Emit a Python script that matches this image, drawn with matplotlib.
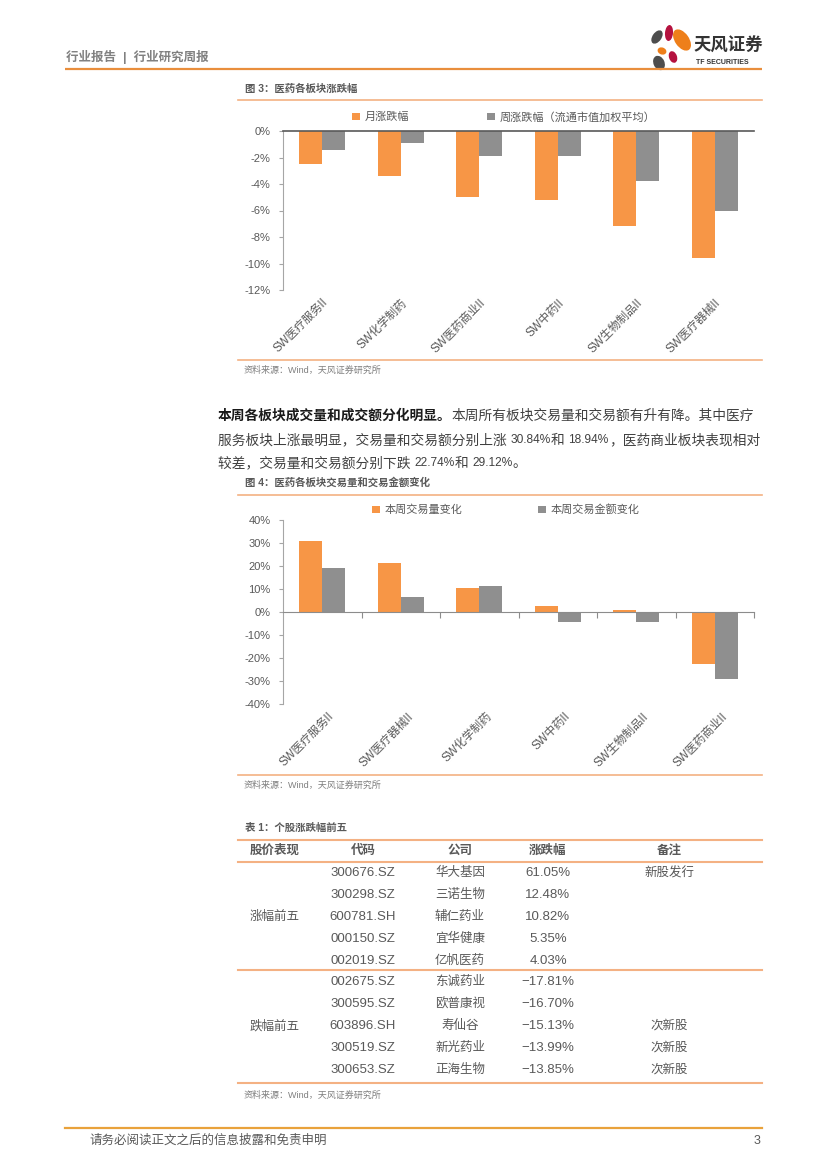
import numpy as np
import matplotlib.pyplot as plt
from matplotlib.patches import Ellipse
from matplotlib.ticker import FuncFormatter
from matplotlib.transforms import blended_transform_factory

plt.rcParams['font.family'] = ['Liberation Sans', 'Noto Sans CJK SC']

# 图3：医药各板块涨跌幅 (%)
sec3 = ['SW医疗服务II', 'SW化学制药', 'SW医药商业II', 'SW中药II', 'SW生物制品II', 'SW医疗器械II']
mon3 = [-2.5, -3.4, -5.0, -5.2, -7.15, -9.6]
week3 = [-1.45, -0.9, -1.9, -1.85, -3.8, -6.0]

# 图4：交易量和交易金额变化 (%)
sec4 = ['SW医疗服务II', 'SW医疗器械II', 'SW化学制药', 'SW中药II', 'SW生物制品II', 'SW医药商业II']
vol4 = [30.84, 21.5, 10.4, 2.7, 1.0, -22.74]
amt4 = [18.94, 6.5, 11.3, -4.3, -4.5, -29.12]

# 表1：个股涨跌幅前五
tb_head = ['股价表现', '代码', '公司', '涨跌幅', '备注']
tb_group = ['涨幅前五', '跌幅前五']
tb_code = ['300676.SZ', '300298.SZ', '600781.SH', '000150.SZ', '002019.SZ',
           '002675.SZ', '300595.SZ', '603896.SH', '300519.SZ', '300653.SZ']
tb_name = ['华大基因', '三诺生物', '辅仁药业', '宜华健康', '亿帆医药',
           '东诚药业', '欧普康视', '寿仙谷', '新光药业', '正海生物']
tb_chg = [61.05, 12.48, 10.82, 5.35, 4.03, -17.81, -16.70, -15.13, -13.99, -13.85]
tb_note = ['新股发行', '', '', '', '', '', '', '次新股', '次新股', '次新股']

ORG = '#F79646'
GRY = '#8F8F8F'
LINE = '#F4B183'
TXT = '#595959'

fig = plt.figure(figsize=(8.27, 11.69), dpi=100)
bg = fig.add_axes([0, 0, 1, 1])
bg.set_xlim(0, 827)
bg.set_ylim(1169, 0)
bg.axis('off')


def box(l, t, r, b):
    return [l / 827, 1 - b / 1169, (r - l) / 827, (b - t) / 1169]


def runs(x, y, parts):
    # parts: (text, size, weight, color) drawn one after another
    for s, fs, wt, c in parts:
        t = bg.text(x, y, s, fontsize=fs, weight=wt, color=c, va='center')
        fig.canvas.draw()
        bb = t.get_window_extent()
        x = bg.transData.inverted().transform((bb.x1, bb.y0))[0]


# 页眉
bg.text(66, 57, '行业报告  |  行业研究周报', fontsize=9, weight='bold', color='#808080', va='center')
bg.plot([65, 762], [68.5, 68.5], color='#E98E3C', lw=1.6, solid_capstyle='butt')
# logo
for (cx, cy, w, h, a, c) in [(657, 37, 9, 15, 35, '#4D4D4D'), (669, 33, 8, 16, 5, '#B5123F'),
                             (682, 40, 14, 24, -35, '#EE7F1A'), (662, 51, 9, 7, 20, '#EE7F1A'),
                             (673, 57, 8, 12, -20, '#B5123F'), (659, 63, 11, 15, -25, '#4D4D4D')]:
    bg.add_patch(Ellipse((cx, cy), w, h, angle=a, color=c, lw=0))
bg.text(694, 45, '天风证券', fontsize=12.5, weight='bold', color='#333333', va='center')
bg.text(696, 62, 'TF SECURITIES', fontsize=5, weight='bold', color='#333333', va='center')

# 图3
bg.text(245, 89, '图 3：医药各板块涨跌幅', fontsize=7.5, weight='bold', color=TXT, va='center')
bg.plot([238, 762], [100, 100], color=LINE, lw=1.2)
ax1 = fig.add_axes(box(283, 131, 754, 290))
x = np.arange(len(sec3))
ax1.bar(x - 0.145, mon3, 0.29, color=ORG, label='月涨跌幅')
ax1.bar(x + 0.145, week3, 0.29, color=GRY, label='周涨跌幅（流通市值加权平均）')
ax1.set_xlim(-0.5, 5.5)
ax1.set_ylim(-12, 0)
ax1.set_yticks(np.arange(-12, 1, 2))
ax1.yaxis.set_major_formatter(FuncFormatter(lambda v, p: f'{v:.0f}%'))
ax1.set_xticks(x, sec3, rotation=45, ha='right', va='top', rotation_mode='anchor')
ax1.tick_params(axis='x', length=0, pad=5, labelsize=8.3, labelcolor=TXT)
ax1.tick_params(axis='y', length=3, color='#A6A6A6', labelsize=8, labelcolor=TXT, pad=6)
ax1.spines[['right', 'bottom']].set_visible(False)
ax1.spines['top'].set_color('#595959')
ax1.spines['top'].set_linewidth(1.2)
ax1.spines['left'].set_color('#A6A6A6')
ax1.spines['left'].set_linewidth(0.8)
leg = ax1.legend(loc='center left', bbox_to_anchor=(352, 117), bbox_transform=bg.transData, ncol=2,
                 frameon=False, fontsize=8, handlelength=0.7, handleheight=0.7, handletextpad=0.45,
                 columnspacing=7.0, borderpad=0, borderaxespad=0)
for t in leg.get_texts():
    t.set_color(TXT)
bg.plot([238, 762], [360, 360], color=LINE, lw=1.2)
bg.text(244, 370, '资料来源：Wind，天风证券研究所', fontsize=6.5, color='#7F7F7F', va='center')

# 正文
P = '#404040'
runs(218, 416, [('本周各板块成交量和成交额分化明显。', 9.9, 'bold', '#1A1A1A'),
                ('本周所有板块交易量和交易额有升有降。其中医疗', 9.9, 'normal', P)])
runs(218, 440, [('服务板块上涨最明显，交易量和交易额分别上涨 ', 9.9, 'normal', P),
                ('30.84%', 8.6, 'normal', P), ('和 ', 9.9, 'normal', P),
                ('18.94%', 8.6, 'normal', P), ('，医药商业板块表现相对', 9.9, 'normal', P)])
runs(218, 463, [('较差，交易量和交易额分别下跌 ', 9.9, 'normal', P),
                ('22.74%', 8.6, 'normal', P), ('和 ', 9.9, 'normal', P),
                ('29.12%', 8.6, 'normal', P), ('。', 9.9, 'normal', P)])

# 图4
bg.text(245, 482, '图 4：医药各板块交易量和交易金额变化', fontsize=7.5, weight='bold', color=TXT, va='center')
bg.plot([238, 762], [495, 495], color=LINE, lw=1.2)
ax2 = fig.add_axes(box(283, 520, 754, 704))
x = np.arange(len(sec4))
ax2.bar(x - 0.145, vol4, 0.29, color=ORG, label='本周交易量变化')
ax2.bar(x + 0.145, amt4, 0.29, color=GRY, label='本周交易金额变化')
ax2.set_xlim(-0.5, 5.5)
ax2.set_ylim(-40, 40)
ax2.set_yticks(np.arange(-40, 41, 10))
ax2.yaxis.set_major_formatter(FuncFormatter(lambda v, p: f'{v:.0f}%'))
ax2.spines['bottom'].set_position(('data', 0))
ax2.spines['bottom'].set_color('#8C8C8C')
ax2.spines[['right', 'top']].set_visible(False)
ax2.spines['left'].set_color('#A6A6A6')
ax2.spines['left'].set_linewidth(0.8)
ax2.set_xticks(np.arange(1, 7) - 0.5)
ax2.tick_params(axis='x', length=4, color='#8C8C8C', labelbottom=False)
ax2.tick_params(axis='y', length=3, color='#A6A6A6', labelsize=8, labelcolor=TXT, pad=6)
tr = blended_transform_factory(ax2.transData, ax2.transAxes)
for i, s in enumerate(sec4):
    ax2.text(i + 0.08, -0.035, s, transform=tr, rotation=45, ha='right', va='top',
             rotation_mode='anchor', fontsize=8.3, color=TXT)
leg = ax2.legend(loc='center left', bbox_to_anchor=(372, 510), bbox_transform=bg.transData, ncol=2,
                 frameon=False, fontsize=8, handlelength=0.7, handleheight=0.7, handletextpad=0.45,
                 columnspacing=6.8, borderpad=0, borderaxespad=0)
for t in leg.get_texts():
    t.set_color(TXT)
bg.plot([238, 762], [775, 775], color=LINE, lw=1.2)
bg.text(244, 785, '资料来源：Wind，天风证券研究所', fontsize=6.5, color='#7F7F7F', va='center')

# 表1
bg.text(245, 828, '表 1：个股涨跌幅前五', fontsize=7.5, weight='bold', color=TXT, va='center')
col_x = [275, 363, 460, 548, 669]
for cx, h in zip(col_x, tb_head):
    bg.text(cx, 851, h, fontsize=9, weight='bold', color=TXT, ha='center', va='center')
for yl in [840, 862, 970, 1083]:
    bg.plot([238, 762], [yl, yl], color=LINE, lw=1.5)
for g, name in enumerate(tb_group):
    y0 = 873 + g * 109
    bg.text(col_x[0], y0 + 2 * 22, name, fontsize=9, color=TXT, ha='center', va='center')
    for k in range(5):
        i = g * 5 + k
        yy = y0 + k * 22
        bg.text(col_x[1], yy, tb_code[i], fontsize=9.5, color=TXT, ha='center', va='center')
        bg.text(col_x[2], yy, tb_name[i], fontsize=9, color=TXT, ha='center', va='center')
        bg.text(col_x[3], yy, f'{tb_chg[i]:.2f}%'.replace('-', '−'), fontsize=9.5, color=TXT,
                ha='center', va='center')
        bg.text(col_x[4], yy, tb_note[i], fontsize=9, color=TXT, ha='center', va='center')
bg.text(244, 1095, '资料来源：Wind，天风证券研究所', fontsize=6.5, color='#7F7F7F', va='center')

# 页脚
bg.plot([65, 762], [1128, 1128], color='#E9A23B', lw=1.6)
bg.text(90, 1141, '请务必阅读正文之后的信息披露和免责申明', fontsize=9, color=TXT, va='center')
bg.text(760, 1141, '3', fontsize=9, color=TXT, ha='right', va='center')

fig.savefig('out.png', dpi=100)
